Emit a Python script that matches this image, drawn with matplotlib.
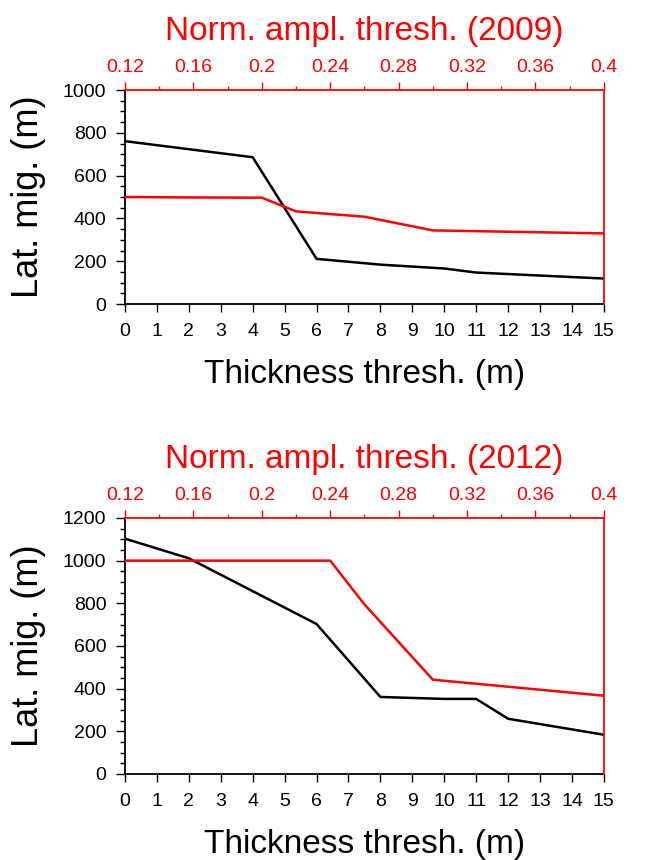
import matplotlib
matplotlib.use("Agg")
import matplotlib.pyplot as plt
from matplotlib.ticker import MultipleLocator

plt.rcParams['font.family'] = ['Liberation Sans', 'DejaVu Sans']

# thickness threshold (m) vs lateral migration (m), black
thick_2009 = [0, 4, 6, 8, 10, 11, 15]
mig_thick_2009 = [761, 686, 211, 184, 166, 147, 119]
thick_2012 = [0, 2, 6, 8, 10, 11, 12, 15]
mig_thick_2012 = [1103, 1011, 703, 361, 352, 352, 259, 184]

# normalised amplitude threshold vs lateral migration (m), red
ampl_2009 = [0.12, 0.16, 0.20, 0.22, 0.26, 0.30, 0.40]
mig_ampl_2009 = [500, 498, 497, 433, 408, 344, 330]
ampl_2012 = [0.12, 0.16, 0.20, 0.24, 0.26, 0.30, 0.40]
mig_ampl_2012 = [1000, 1000, 1000, 1000, 795, 442, 367]

top_ticks = [0.12, 0.16, 0.2, 0.24, 0.28, 0.32, 0.36, 0.4]
top_labels = ["0.12", "0.16", "0.2", "0.24", "0.28", "0.32", "0.36", "0.4"]

panels = [
    ("2009", thick_2009, mig_thick_2009, ampl_2009, mig_ampl_2009, 1000,
     [0.1877, 0.6465, 0.719, 0.2488]),
    ("2012", thick_2012, mig_thick_2012, ampl_2012, mig_ampl_2012, 1200,
     [0.1877, 0.1000, 0.719, 0.2977]),
]

fig = plt.figure(figsize=(6.66, 8.6), dpi=100)

for year, tx, ty, ax_, ay, ymax, pos in panels:
    ax = fig.add_axes(pos)
    ax.plot(tx, ty, color='black', lw=1.8)
    ax.set_xlim(0, 15)
    ax.set_ylim(0, ymax)
    ax.xaxis.set_major_locator(MultipleLocator(1))
    ax.yaxis.set_major_locator(MultipleLocator(200))
    ax.yaxis.set_minor_locator(MultipleLocator(50))
    ax.tick_params(axis='x', which='major', direction='out', length=6,
                   width=1, labelsize=14, pad=8)
    ax.tick_params(axis='y', which='major', direction='out', length=6.5,
                   width=1, labelsize=14, pad=7)
    ax.tick_params(axis='y', which='minor', direction='out', length=3.5, width=1)
    ax.set_xlabel("Thickness thresh. (m)", fontsize=24, labelpad=13)
    ax.set_ylabel("Lat. mig. (m)", fontsize=26, labelpad=12)
    for s in ['left', 'bottom']:
        ax.spines[s].set_linewidth(1.3)
    ax.spines['top'].set_visible(False)
    ax.spines['right'].set_visible(False)

    ax2 = ax.twiny()
    ax2.plot(ax_, ay, color='red', lw=1.8)
    ax2.set_xlim(0.12, 0.4)
    ax2.set_ylim(0, ymax)
    ax2.xaxis.set_minor_locator(MultipleLocator(0.02))
    ax2.set_xticks(top_ticks)
    ax2.set_xticklabels(top_labels)
    ax2.tick_params(axis='x', which='major', direction='out', length=6, width=1,
                    colors='red', labelsize=14, pad=4)
    ax2.tick_params(axis='x', which='minor', direction='out', length=3, width=1,
                    colors='red')
    ax2.tick_params(axis='y', which='both', right=True, left=False,
                    labelright=False, labelleft=False, direction='out',
                    colors='red')
    ax2.yaxis.set_major_locator(MultipleLocator(200))
    ax2.yaxis.set_minor_locator(MultipleLocator(50))
    ax2.tick_params(axis='y', which='major', length=6, width=1)
    ax2.tick_params(axis='y', which='minor', length=3, width=1)
    ax2.spines['top'].set_color('red')
    ax2.spines['right'].set_color('red')
    ax2.spines['top'].set_linewidth(1.3)
    ax2.spines['right'].set_linewidth(1.3)
    ax2.spines['left'].set_visible(False)
    ax2.spines['bottom'].set_visible(False)
    ax2.set_xlabel("Norm. ampl. thresh. (" + year + ")", fontsize=24,
                   color='red', labelpad=14)

fig.savefig("out.png", dpi=100)
